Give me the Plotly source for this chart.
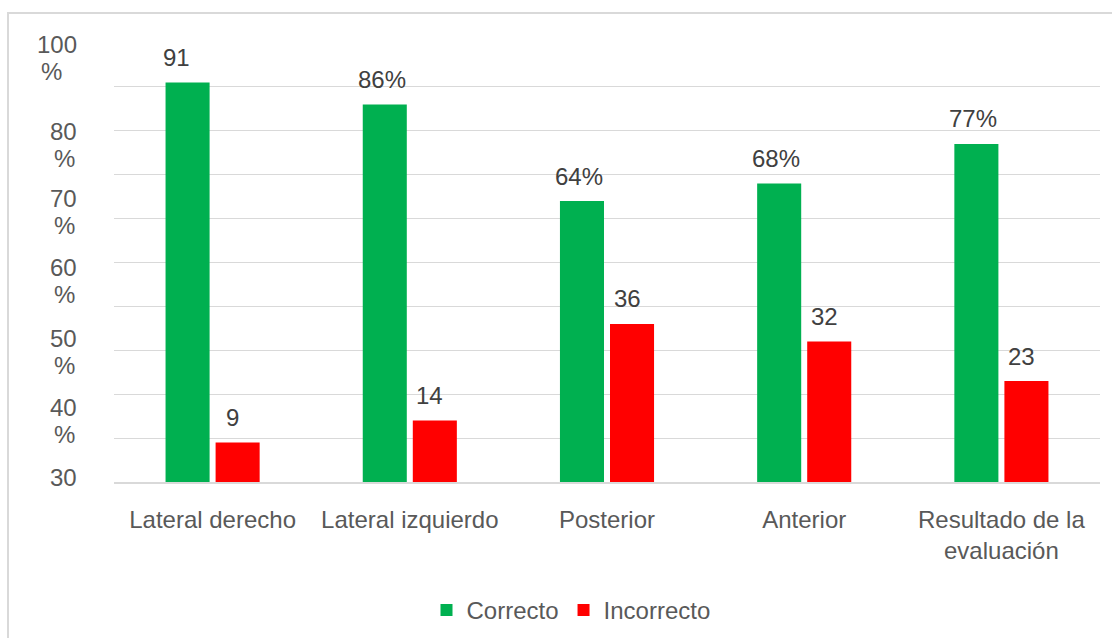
import plotly.graph_objects as go

categories = ["Lateral derecho", "Lateral izquierdo", "Posterior", "Anterior",
              "Resultado de la<br>evaluación"]
correcto = [91, 86, 64, 68, 77]
incorrecto = [9, 14, 36, 32, 23]
correcto_labels = ["91", "86%", "64%", "68%", "77%"]
incorrecto_labels = ["9", "14", "36", "32", "23"]
ytick_text = ["100 %", "80 %", "70 %", "60 %", "50 %", "40 %", "30"]
# where each (oddly placed) y label block sits, in axis units
ytick_anchor = [96.5, 76.7, 61.5, 45.7, 29.6, 13.8, 1.1]

GREEN = "#00B050"
RED = "#FF0000"
TXT = "#595959"
GRID = "#D9D9D9"
FONT = "Liberation Sans, Arial, sans-serif"
FS = 24

W, H = 1112, 638
L, R, T, B = 114, 12, 43, 156
PW, PH = W - L - R, H - T - B

fig = go.Figure()
fig.add_bar(name="Correcto", x=categories, y=correcto, marker_color=GREEN,
            marker_line_width=0)
fig.add_bar(name="Incorrecto", x=categories, y=incorrecto, marker_color=RED,
            marker_line_width=0)

ann = []
for c, v, t in zip(categories, correcto, correcto_labels):
    dx = -28 if t.endswith("%") else -36
    ann.append(dict(x=c, y=v, xref="x", yref="y", text=t, showarrow=False,
                    xshift=dx, yshift=25, yanchor="middle", xanchor="center",
                    font=dict(family=FONT, size=FS, color="#404040")))
for c, v, t in zip(categories, incorrecto, incorrecto_labels):
    dx = 28 if t.endswith("%") else 20
    ann.append(dict(x=c, y=v, xref="x", yref="y", text=t, showarrow=False,
                    xshift=dx, yshift=25, yanchor="middle", xanchor="center",
                    font=dict(family=FONT, size=FS, color="#404040")))

# y-axis labels (wrapped like the original): number right-aligned at x≈79px,
# the "%" line left-aligned under the number
RIGHT = 79
for t, yv in zip(ytick_text, ytick_anchor):
    parts = t.split(" ")
    n = len(parts)
    num_w = len(parts[0]) * 0.556 * FS
    for i, p in enumerate(parts):
        off = (n - 1) / 2 * 27 - i * 27
        if i == 0:
            xa, xp = "right", RIGHT
        else:
            xa, xp = "left", RIGHT - num_w
        ann.append(dict(x=(xp - L) / PW, y=yv, xref="paper", yref="y", text=p,
                        showarrow=False, xanchor=xa, yanchor="middle",
                        yshift=off, font=dict(family=FONT, size=FS, color=TXT)))

fig.update_layout(
    width=W, height=H,
    margin=dict(l=L, r=R, t=T, b=B, autoexpand=False),
    paper_bgcolor="white", plot_bgcolor="white",
    barmode="group", bargap=0.4924, bargroupgap=0.12,
    font=dict(family=FONT, size=FS, color=TXT),
    showlegend=True,
    legend=dict(orientation="h", x=(571 - L) / PW, xanchor="center",
                y=(H - B - 610.5) / PH, yanchor="middle",
                font=dict(family=FONT, size=FS, color=TXT),
                bgcolor="rgba(0,0,0,0)"),
    annotations=ann,
    shapes=[dict(type="rect", xref="paper", yref="paper",
                 x0=(8 - L) / PW, x1=(1130 - L) / PW,
                 y0=(H - B - 660) / PH, y1=1 + (T - 13) / PH,
                 line=dict(color=GRID, width=2), fillcolor="rgba(0,0,0,0)",
                 layer="below")],
)
fig.update_xaxes(showgrid=False, showline=True, linecolor=GRID, linewidth=1.5,
                 automargin=False,
                 ticks="outside", ticklen=15, tickcolor="rgba(0,0,0,0)",
                 tickfont=dict(family=FONT, size=FS, color=TXT))
fig.update_yaxes(range=[0, 100], dtick=10, showgrid=True, gridcolor=GRID,
                 gridwidth=1.3, zeroline=False, showticklabels=False,
                 automargin=False)

fig.write_html("out.html")
